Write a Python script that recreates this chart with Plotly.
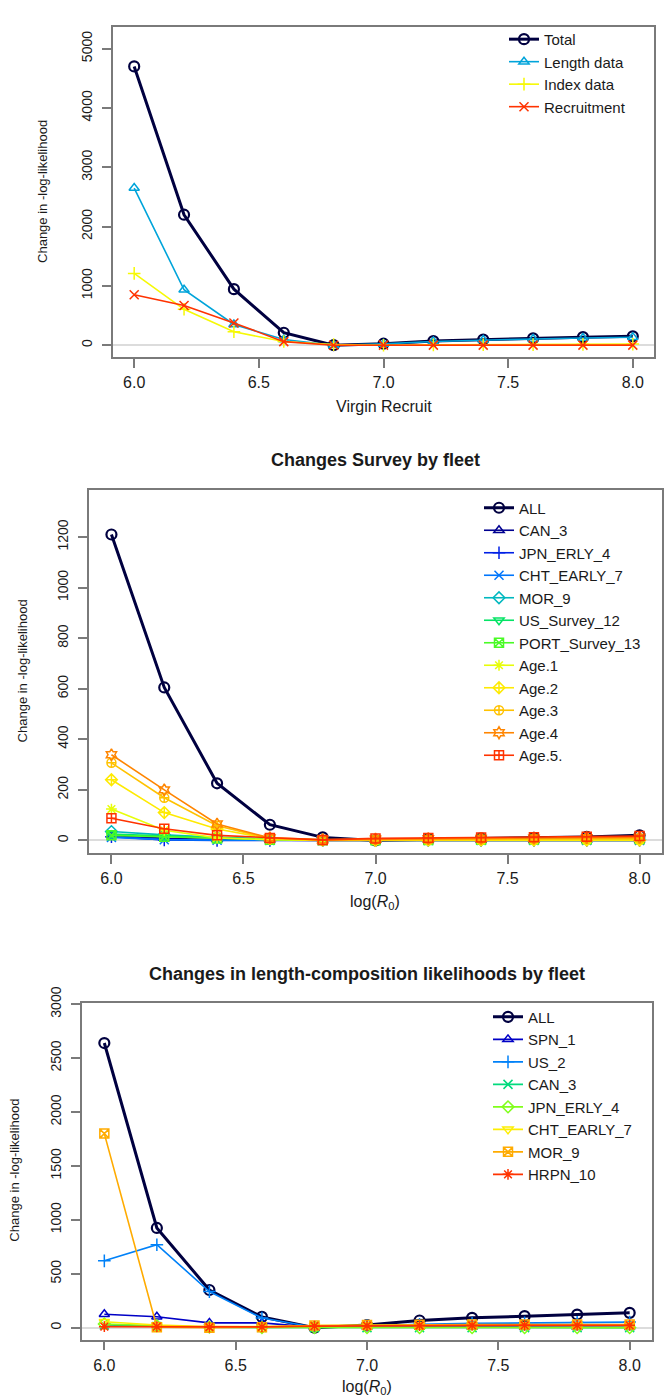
import plotly.graph_objects as go

# ---------------- data ----------------
log_r0 = [6.0, 6.2, 6.4, 6.6, 6.8, 7.0, 7.2, 7.4, 7.6, 7.8, 8.0]

# Panel 1: likelihood components
comp_names = ["Total", "Length data", "Index data", "Recruitment"]
comp_total = [4700, 2200, 945, 210, 0, 25, 70, 95, 115, 135, 150]
comp_length = [2650, 935, 350, 95, 0, 22, 62, 88, 105, 122, 135]
comp_index = [1210, 605, 226, 62, 10, 0, 5, 8, 10, 14, 18]
comp_recruit = [850, 670, 375, 60, 0, 1, 1, 1, 1, 1, 1]

# Panel 2: survey likelihoods by fleet
survey_names = ["ALL", "CAN_3", "JPN_ERLY_4", "CHT_EARLY_7", "MOR_9", "US_Survey_12",
                "PORT_Survey_13", "Age.1", "Age.2", "Age.3", "Age.4", "Age.5."]
survey_vals = [
    [1210, 605, 226, 62, 12, 0, 5, 8, 10, 14, 20],     # ALL
    [20, 8, 3, 1, 0, 0, 0, 0, 0, 0, 0],                # CAN_3
    [15, 2, 0, 0, 0, 0, 0, 0, 0, 0, 0],                # JPN_ERLY_4
    [12, 3, 1, 0, 0, 0, 0, 0, 0, 0, 0],                # CHT_EARLY_7
    [35, 22, 12, 5, 1, 1, 2, 2, 3, 3, 4],              # MOR_9
    [25, 18, 10, 4, 1, 1, 2, 3, 3, 4, 5],              # US_Survey_12
    [20, 15, 8, 3, 1, 1, 2, 3, 4, 5, 6],               # PORT_Survey_13
    [124, 40, 10, 3, 0, 0, 0, 0, 0, 0, 0],             # Age.1
    [240, 110, 45, 7, 1, 0, 1, 1, 1, 1, 1],            # Age.2
    [307, 169, 58, 8, 1, 2, 3, 4, 5, 6, 7],            # Age.3
    [339, 200, 65, 10, 3, 5, 7, 8, 9, 11, 12],         # Age.4
    [88, 46, 20, 10, 2, 8, 10, 12, 13, 15, 17],        # Age.5.
]

# Panel 3: length-composition likelihoods by fleet
length_names = ["ALL", "SPN_1", "US_2", "CAN_3", "JPN_ERLY_4", "CHT_EARLY_7", "MOR_9", "HRPN_10"]
length_vals = [
    [2640, 925, 350, 100, 0, 25, 67, 92, 107, 122, 138],   # ALL
    [125, 102, 45, 45, 5, 8, 6, 6, 5, 5, 5],               # SPN_1
    [620, 770, 335, 90, 5, 20, 32, 40, 45, 50, 52],        # US_2
    [25, 12, 5, 2, 1, 1, 1, 1, 1, 1, 1],                   # CAN_3
    [35, 18, 5, 2, 1, 1, 1, 1, 1, 1, 1],                   # JPN_ERLY_4
    [55, 25, 10, 10, 20, 25, 25, 25, 25, 25, 25],          # CHT_EARLY_7
    [1800, 5, 0, 5, 20, 25, 28, 30, 30, 30, 30],           # MOR_9
    [10, 10, 5, 8, 15, 18, 20, 21, 22, 22, 22],            # HRPN_10
]

# ---------------- styles ----------------
comp_colors = ["#000040", "#00A4DA", "#F6F905", "#FF3300"]
comp_symbols = ["circle-open", "triangle-up-open", "cross-thin-open", "x-thin-open"]

survey_colors = ["#000040", "#000091", "#0020E6", "#0076FC", "#00B8BF", "#04E465",
                 "#49FB25", "#E7FD09", "#FEEA02", "#FFC200", "#FF8500", "#FF3300"]
survey_symbols = ["circle-open", "triangle-up-open", "cross-thin-open", "x-thin-open",
                  "diamond-open", "triangle-down-open", "square-x-open", "asterisk-open",
                  "diamond-cross-open", "circle-cross-open", "hexagram-open", "square-cross-open"]

length_colors = ["#000040", "#0000C6", "#0081F8", "#02DA7D", "#80FE1A", "#FDEE02",
                 "#FFAB00", "#FF3300"]
length_symbols = ["circle-open", "triangle-up-open", "cross-thin-open", "x-thin-open",
                  "diamond-open", "triangle-down-open", "square-x-open", "asterisk-open"]

FONT = "Liberation Sans, Arial, sans-serif"
TXT = "#1a1a1a"
W, H = 665, 1399

fig = go.Figure()


def add_series(names, values, colors, symbols, xa, ya, legend):
    for i, (name, vals) in enumerate(zip(names, values)):
        thick = i == 0
        fig.add_trace(go.Scatter(
            x=log_r0, y=vals, name=name, mode="lines+markers",
            xaxis=xa, yaxis=ya, legend=legend,
            line=dict(color=colors[i], width=3 if thick else 1.6),
            marker=dict(symbol=symbols[i], size=10 if thick else 9,
                        color=colors[i], line=dict(color=colors[i], width=2.2 if thick else 1.5)),
        ))


add_series(comp_names, [comp_total, comp_length, comp_index, comp_recruit],
           comp_colors, comp_symbols, "x", "y", "legend")
add_series(survey_names, survey_vals, survey_colors, survey_symbols, "x2", "y2", "legend2")
add_series(length_names, length_vals, length_colors, length_symbols, "x3", "y3", "legend3")


def px_x(p):
    return p / W


def px_y(p):
    return 1 - p / H


axis_common = dict(
    showgrid=False, showline=True, mirror=True, linecolor="#7a7a7a", linewidth=1.5,
    ticks="outside", ticklen=9, tickwidth=1.5, tickcolor="#7a7a7a",
)

x_ticks = [6.0, 6.5, 7.0, 7.5, 8.0]

panels = [
    # (x domain px, y domain px, y range, y ticks)
    ((113, 654), (11, 345), [-200, 5367], [0, 1000, 2000, 3000, 4000, 5000]),
    ((89, 662), (479, 847), [-51, 1388], [0, 200, 400, 600, 800, 1000, 1200]),
    ((82, 652), (998, 1339), [-111, 3015], [0, 500, 1000, 1500, 2000, 2500, 3000]),
]

layout = dict(
    width=W, height=H, margin=dict(l=0, r=0, t=0, b=0),
    paper_bgcolor="white", plot_bgcolor="white",
    font=dict(family=FONT, color=TXT),
)

for k, (xd, yd, yr, yt) in enumerate(panels):
    sx = "" if k == 0 else str(k + 1)
    layout["xaxis" + sx] = dict(
        axis_common, domain=[px_x(xd[0]), px_x(xd[1])], range=[5.915, 8.085],
        tickvals=x_ticks, tickformat=".1f", anchor="y" + sx, zeroline=False,
        ticklabelstandoff=1,
        tickfont=dict(family=FONT, size=16, color=TXT),
    )
    layout["yaxis" + sx] = dict(
        axis_common, domain=[px_y(yd[1]), px_y(yd[0])], range=yr,
        tickvals=yt, tickangle=-90, anchor="x" + sx, ticklabelstandoff=5,
        tickfont=dict(family=FONT, size=14, color=TXT),
        zeroline=True, zerolinecolor="#dcdcdc", zerolinewidth=1.5,
    )

legend_common = dict(
    bgcolor="rgba(0,0,0,0)", borderwidth=0, xanchor="left", yanchor="top",
    font=dict(family=FONT, size=15, color=TXT), tracegroupgap=0,
)
layout["legend"] = dict(legend_common, x=px_x(504), y=px_y(7))
layout["legend2"] = dict(legend_common, x=px_x(479), y=px_y(481))
layout["legend3"] = dict(legend_common, x=px_x(488), y=px_y(996))

fig.update_layout(**layout)

# Axis titles and panel titles
ann = []


def label(text, x, y, angle=0, size=15, weight="normal"):
    ann.append(dict(
        text=text, x=px_x(x), y=px_y(y),
        xref="paper", yref="paper", showarrow=False, textangle=angle,
        xanchor="center", yanchor="middle",
        font=dict(family=FONT, size=size, color=TXT, weight=weight),
    ))


label("Change in -log-likelihood", 43, 178, -90, 13)
label("Virgin Recruit", 384, 395, size=16)

label("Changes Survey by fleet", 375, 449, size=18, weight="bold")
label("Change in -log-likelihood", 22, 663, -90, 13)
label("log(<i>R</i><sub>0</sub>)", 375, 897, size=16)

label("Changes in length-composition likelihoods by fleet", 367, 969, size=18, weight="bold")
label("Change in -log-likelihood", 15, 1168, -90, 13)
label("log(<i>R</i><sub>0</sub>)", 367, 1387, size=16)

fig.update_layout(annotations=ann)

fig.write_html("out.html")
